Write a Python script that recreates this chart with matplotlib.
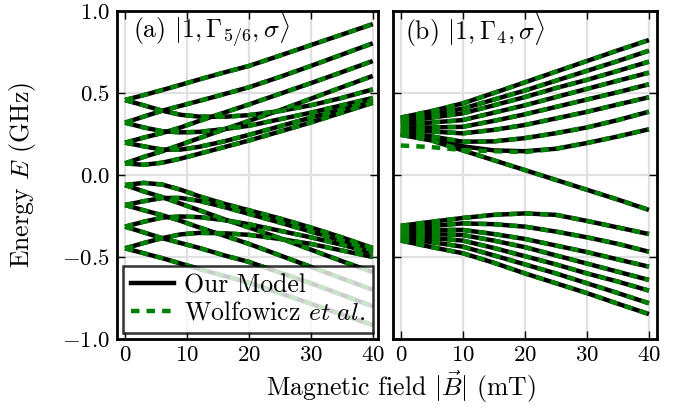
import matplotlib
matplotlib.use('Agg')
import matplotlib.pyplot as plt
from matplotlib.lines import Line2D

plt.rcParams['font.family'] = 'cmr10'
plt.rcParams['mathtext.fontset'] = 'cm'
plt.rcParams['axes.formatter.use_mathtext'] = True
plt.rcParams['font.size'] = 18

# ---------------- data (GHz vs mT) ----------------
Ba = [0, 3, 6, 9, 12, 16, 20, 25, 30, 35, 40]
# panel (a) upper group: fast rising lines
a_up_fast = [
    [0.457, 0.487, 0.518, 0.550, 0.583, 0.625, 0.665, 0.728, 0.792, 0.856, 0.920],
    [0.319, 0.356, 0.392, 0.422, 0.452, 0.493, 0.535, 0.598, 0.665, 0.734, 0.803],
    [0.197, 0.228, 0.256, 0.290, 0.330, 0.380, 0.430, 0.495, 0.560, 0.627, 0.695],
    [0.071, 0.110, 0.145, 0.185, 0.225, 0.278, 0.330, 0.395, 0.465, 0.535, 0.604],
]
# panel (a) upper group: slow lines
a_up_slow = [
    [0.457, 0.425, 0.392, 0.367, 0.356, 0.355, 0.365, 0.390, 0.425, 0.470, 0.522],
    [0.319, 0.290, 0.267, 0.260, 0.263, 0.280, 0.300, 0.340, 0.380, 0.425, 0.470],
    [0.197, 0.175, 0.155, 0.155, 0.172, 0.205, 0.245, 0.297, 0.350, 0.400, 0.455],
    [0.071, 0.062, 0.075, 0.100, 0.130, 0.170, 0.210, 0.265, 0.320, 0.380, 0.440],
]
# panel (a) lower group: fast falling lines
a_lo_fast = [
    [-0.447, -0.477, -0.507, -0.540, -0.573, -0.615, -0.657, -0.720, -0.785, -0.850, -0.915],
    [-0.315, -0.350, -0.385, -0.415, -0.445, -0.490, -0.530, -0.595, -0.660, -0.730, -0.800],
    [-0.183, -0.215, -0.245, -0.280, -0.320, -0.370, -0.420, -0.490, -0.560, -0.630, -0.700],
    [-0.061, -0.100, -0.135, -0.175, -0.215, -0.270, -0.320, -0.385, -0.455, -0.525, -0.592],
]
# panel (a) lower group: slow lines
a_lo_slow = [
    [-0.447, -0.415, -0.385, -0.362, -0.353, -0.355, -0.365, -0.390, -0.420, -0.460, -0.500],
    [-0.315, -0.285, -0.260, -0.253, -0.257, -0.275, -0.300, -0.340, -0.380, -0.425, -0.475],
    [-0.183, -0.160, -0.140, -0.140, -0.158, -0.195, -0.237, -0.290, -0.345, -0.400, -0.460],
    [-0.061, -0.048, -0.058, -0.090, -0.130, -0.175, -0.215, -0.265, -0.320, -0.380, -0.445],
]

Bb = [0, 5, 10, 15, 20, 25, 30, 35, 40]
# panel (b) upper group: rising lines (model and reference agree)
b_up = [
    [0.350, 0.390, 0.437, 0.500, 0.565, 0.630, 0.695, 0.760, 0.823],
    [0.340, 0.370, 0.405, 0.460, 0.515, 0.575, 0.635, 0.695, 0.758],
    [0.325, 0.350, 0.376, 0.425, 0.475, 0.530, 0.580, 0.635, 0.691],
    [0.310, 0.320, 0.335, 0.380, 0.425, 0.475, 0.525, 0.575, 0.624],
    [0.290, 0.290, 0.294, 0.330, 0.370, 0.415, 0.460, 0.505, 0.553],
    [0.275, 0.265, 0.254, 0.275, 0.305, 0.345, 0.385, 0.430, 0.474],
    [0.260, 0.235, 0.203, 0.205, 0.225, 0.255, 0.290, 0.335, 0.386],
]
# lowest rising line: model vs. Wolfowicz et al.
b_low_model = [0.250, 0.215, 0.175, 0.150, 0.145, 0.160, 0.195, 0.235, 0.279]
b_low_ref = [0.180, 0.170, 0.152, 0.145, 0.140, 0.160, 0.195, 0.235, 0.279]
# descending line of the upper group
b_desc = [0.245, 0.210, 0.150, 0.090, 0.030, -0.030, -0.090, -0.150, -0.213]
# panel (b) lower group
b_lo = [
    [-0.310, -0.285, -0.262, -0.243, -0.234, -0.243, -0.280, -0.320, -0.360],
    [-0.325, -0.310, -0.295, -0.300, -0.315, -0.345, -0.380, -0.420, -0.468],
    [-0.340, -0.335, -0.335, -0.360, -0.390, -0.430, -0.470, -0.515, -0.559],
    [-0.355, -0.360, -0.366, -0.400, -0.440, -0.490, -0.540, -0.590, -0.640],
    [-0.370, -0.385, -0.400, -0.445, -0.495, -0.545, -0.600, -0.650, -0.705],
    [-0.385, -0.410, -0.437, -0.490, -0.545, -0.600, -0.660, -0.720, -0.782],
    [-0.400, -0.440, -0.477, -0.535, -0.600, -0.660, -0.720, -0.785, -0.848],
]

xticks = [0, 10, 20, 30, 40]
yticks = [-1.0, -0.5, 0.0, 0.5, 1.0]
ytick_labels = ['$-1.0$', '$-0.5$', '$0.0$', '$0.5$', '$1.0$']

# ---------------- figure ----------------
W, H = 688, 413
fig = plt.figure(figsize=(W / 100, H / 100), dpi=100)
axa = fig.add_axes([117 / W, 1 - 339 / H, (378 - 117) / W, (339 - 11) / H])
axb = fig.add_axes([393 / W, 1 - 339 / H, (657 - 393) / W, (339 - 11) / H])

LW = 3.2
GREEN = '#008000'
DASH = (1.9, 1.6)
TICKFS = 16.5
FS = 18.5


def draw(ax, x, ys_model, ys_ref):
    for y in ys_model:
        ax.plot(x, y, color='black', lw=LW, solid_capstyle='butt', zorder=2)
    for y in ys_ref:
        ax.plot(x, y, color=GREEN, lw=LW, dashes=DASH, dash_capstyle='butt', zorder=3)


a_all = a_up_fast + a_up_slow + a_lo_fast + a_lo_slow
draw(axa, Ba, a_all, a_all)
b_model = b_up + [b_low_model, b_desc] + b_lo
b_ref = b_up + [b_low_ref, b_desc] + b_lo
draw(axb, Bb, b_model, b_ref)

for ax, xl in ((axa, (-1.3, 40.85)), (axb, (-1.25, 41.3))):
    ax.set_xlim(*xl)
    ax.set_ylim(-1.0, 1.0)
    ax.set_xticks(xticks)
    ax.set_yticks(yticks)
    ax.grid(True, color='0.88', lw=1.6)
    ax.set_axisbelow(True)
    ax.tick_params(direction='in', top=True, right=True, length=6, width=1.0,
                   labelsize=TICKFS, pad=5)
    for s in ax.spines.values():
        s.set_linewidth(2.0)

axa.set_yticklabels(ytick_labels)
axb.tick_params(labelleft=False)

axa.text(0.06, 0.943, r'(a) $|1, \Gamma_{5/6}, \sigma\rangle$', transform=axa.transAxes,
         fontsize=FS, va='center', ha='left')
axb.text(0.045, 0.943, r'(b) $|1, \Gamma_{4}, \sigma\rangle$', transform=axb.transAxes,
         fontsize=FS, va='center', ha='left')

h1 = Line2D([], [], color='black', lw=LW)
h2 = Line2D([], [], color=GREEN, lw=LW, dashes=DASH)
leg = axa.legend([h1, h2], ['Our Model', r'Wolfowicz $\it{et\ al.}$'], loc='lower left',
                 fontsize=FS, fancybox=False, edgecolor='black', framealpha=0.8,
                 handlelength=1.65, handletextpad=0.4, borderaxespad=0.25,
                 labelspacing=0.15, borderpad=0.3)
leg.get_frame().set_linewidth(1.8)

fig.text(0.583, 0.063, r'Magnetic field $|\vec{B}|$ (mT)', ha='center', va='center', fontsize=FS)
fig.text(0.032, 0.576, r'Energy $E$ (GHz)', rotation=90, ha='center', va='center', fontsize=FS)

fig.savefig('out.png', dpi=100)
